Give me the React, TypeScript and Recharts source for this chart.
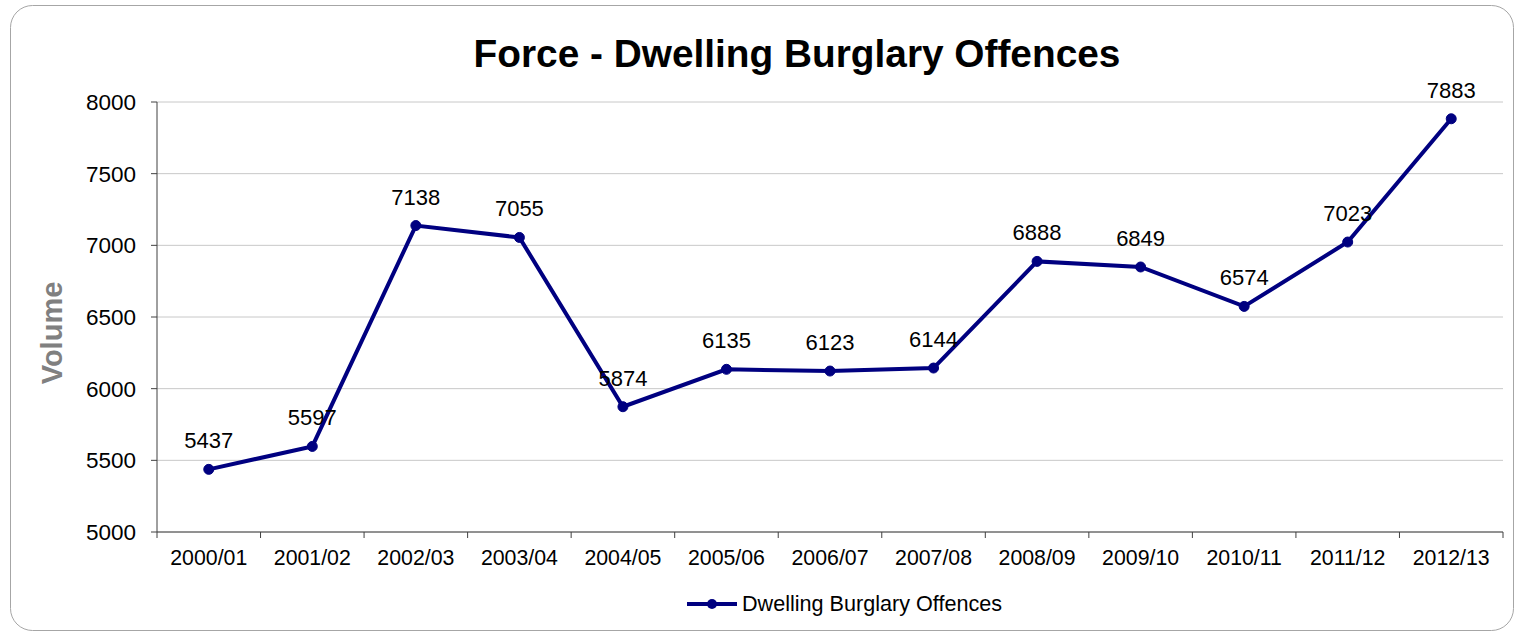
import React from 'react';
import { LineChart, Line, XAxis, YAxis, CartesianGrid, LabelList, Label, Legend } from 'recharts';

const categories = ['2000/01', '2001/02', '2002/03', '2003/04', '2004/05', '2005/06', '2006/07', '2007/08', '2008/09', '2009/10', '2010/11', '2011/12', '2012/13'];
const offences = [5437, 5597, 7138, 7055, 5874, 6135, 6123, 6144, 6888, 6849, 6574, 7023, 7883];
const yTicks = [5000, 5500, 6000, 6500, 7000, 7500, 8000];
const seriesName = 'Dwelling Burglary Offences';
const titleText = 'Force - Dwelling Burglary Offences';
const yLabel = 'Volume';

const data = categories.map((c, i) => ({ cat: c, value: offences[i] }));

const FONT = '"Liberation Sans", Arial, sans-serif';
const NAVY = '#000080';
const AXIS = '#404040';

const XTick = (props: any) => {
  const { x, y, payload, index, width, visibleTicksCount } = props;
  const half = width && visibleTicksCount ? width / visibleTicksCount / 2 : (payload && payload.offset) || 0;
  const last = index === visibleTicksCount - 1;
  return (
    <g>
      <line x1={x - half} x2={x - half} y1={y - 6} y2={y} stroke={AXIS} strokeWidth={1} />
      {last && <line x1={x + half} x2={x + half} y1={y - 6} y2={y} stroke={AXIS} strokeWidth={1} />}
      <text x={x} y={y + 27} textAnchor="middle" fontSize={21.3} fill="#000" fontFamily={FONT}>
        {payload.value}
      </text>
    </g>
  );
};

const LegendContent = () => (
  <div style={{ display: 'flex', alignItems: 'center', fontFamily: FONT, fontSize: 21.6, color: '#000' }}>
    <svg width={52} height={14} style={{ display: 'block' }}>
      <line x1={1} x2={51} y1={7} y2={7} stroke={NAVY} strokeWidth={4} />
      <circle cx={26} cy={7} r={5} fill={NAVY} />
    </svg>
    <span style={{ marginLeft: 4, lineHeight: '24px' }}>{seriesName}</span>
  </div>
);

export default function App() {
  return (
    <div style={{ position: 'absolute', left: 0, top: 0, width: 1517, height: 633, background: '#fff' }}>
      <svg width={1517} height={633} style={{ position: 'absolute', left: 0, top: 0 }}>
        <rect x={10.5} y={5.5} width={1503} height={625} rx={22} ry={22} fill="#fff" stroke="#a6a6a6" strokeWidth={1} />
        <text x={797} y={67} textAnchor="middle" fontFamily={FONT} fontWeight="bold" fontSize={38.8} fill="#000">
          {titleText}
        </text>
      </svg>
      <div style={{ position: 'absolute', left: 0, top: 0 }}>
        <LineChart width={1517} height={633} data={data} margin={{ top: 102, right: 14, bottom: 61, left: 97 }}>
          <CartesianGrid vertical={false} stroke="#c8c8c8" strokeWidth={1} />
          <XAxis
            dataKey="cat"
            scale="band"
            height={40}
            tickSize={6}
            tickMargin={0}
            tickLine={false}
            axisLine={{ stroke: AXIS, strokeWidth: 1 }}
            tick={<XTick />}
            interval={0}
          />
          <YAxis
            width={60}
            domain={[5000, 8000]}
            ticks={yTicks}
            interval={0}
            tickSize={6}
            tickMargin={15}
            axisLine={{ stroke: AXIS, strokeWidth: 1 }}
            tickLine={{ stroke: AXIS, strokeWidth: 1 }}
            tick={{ fontSize: 22.5, fill: '#000', fontFamily: FONT }}
          >
            <Label
              content={() => (
                <text
                  transform="translate(62,333) rotate(-90)"
                  textAnchor="middle"
                  fontFamily={FONT}
                  fontWeight="bold"
                  fontSize={29}
                  fill="#808080"
                >
                  {yLabel}
                </text>
              )}
            />
          </YAxis>
          <Legend
            layout="vertical"
            align="center"
            verticalAlign="middle"
            content={<LegendContent />}
            wrapperStyle={{ top: 592, left: 686, width: 340, height: 26, bottom: 'auto', right: 'auto' }}
          />
          <Line
            type="linear"
            dataKey="value"
            name={seriesName}
            stroke={NAVY}
            strokeWidth={4}
            dot={{ r: 5, fill: NAVY, stroke: NAVY, strokeWidth: 1 }}
            activeDot={false}
            isAnimationActive={false}
          >
            <LabelList dataKey="value" position="top" offset={21} fontSize={22} fill="#000" fontFamily={FONT} />
          </Line>
        </LineChart>
      </div>
    </div>
  );
}
